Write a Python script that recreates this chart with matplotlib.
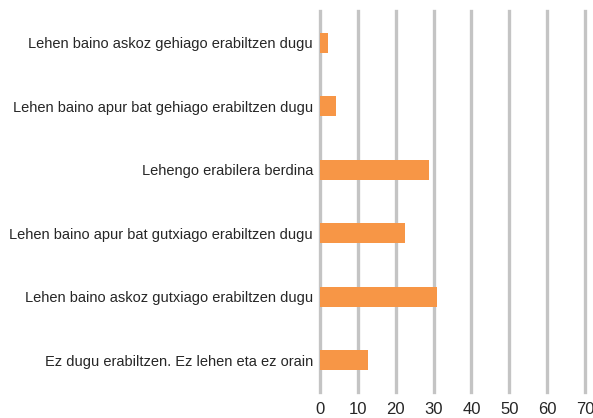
import matplotlib
matplotlib.use('Agg')
import matplotlib.pyplot as plt

# Survey answers, top to bottom, with percentages
categories = [
    'Lehen baino askoz gehiago erabiltzen dugu',
    'Lehen baino apur bat gehiago erabiltzen dugu',
    'Lehengo erabilera berdina',
    'Lehen baino apur bat gutxiago erabiltzen dugu',
    'Lehen baino askoz gutxiago erabiltzen dugu',
    'Ez dugu erabiltzen. Ez lehen eta ez orain',
]
values = [2.1, 4.2, 28.8, 22.4, 30.9, 12.8]
xticks = [0, 10, 20, 30, 40, 50, 60, 70]

plt.rcParams['font.family'] = ['Liberation Sans', 'DejaVu Sans']

fig = plt.figure(figsize=(5.93, 4.18), dpi=100)
ax = fig.add_axes([0.5396, 0.0622, 0.4469, 0.9115])

ypos = range(len(categories))
ax.barh(ypos, values, height=0.31, color='#F79646', zorder=3)

ax.set_xlim(0, 70)
ax.set_ylim(len(categories) - 0.5, -0.5)
ax.set_xticks(xticks)
ax.set_yticks(list(ypos))
ax.set_yticklabels(categories, fontsize=10.5, color='#262626')
ax.set_xticklabels([str(t) for t in xticks], fontsize=12, color='#262626')

ax.grid(axis='x', color='#c4c4c4', linewidth=2.4, zorder=0)
# keep the edge gridlines at full width
for line in ax.get_xgridlines():
    line.set_clip_on(False)
for side in ['top', 'right', 'bottom', 'left']:
    ax.spines[side].set_visible(False)
ax.tick_params(axis='both', length=0)
ax.tick_params(axis='y', pad=5)
ax.tick_params(axis='x', pad=7)

plt.savefig('out.png', dpi=100)
